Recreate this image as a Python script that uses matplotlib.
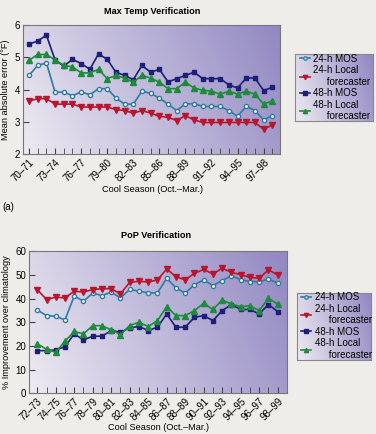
import numpy as np
import matplotlib
matplotlib.use('Agg')
import matplotlib.pyplot as plt

plt.rcParams['font.family'] = ['Liberation Sans', 'DejaVu Sans']

# cool seasons
temp_seasons = ["%02d\u2013%02d" % (y % 100, (y + 1) % 100) for y in range(1970, 1999)]
pop_seasons = ["%02d\u2013%02d" % (y % 100, (y + 1) % 100) for y in range(1972, 1999)]

# Max temp mean absolute error (F)
temp_mos24 = [4.44, 4.75, 4.83, 3.92, 3.92, 3.81, 3.93, 3.84, 4.03, 4.03, 3.74, 3.55, 3.55, 3.95, 3.88,
              3.74, 3.55, 3.35, 3.56, 3.56, 3.48, 3.48, 3.48, 3.35, 3.17, 3.48, 3.35, 3.06, 3.19]
temp_loc24 = [3.64, 3.72, 3.72, 3.55, 3.55, 3.55, 3.46, 3.46, 3.46, 3.46, 3.38, 3.35, 3.27, 3.35, 3.27,
              3.17, 3.14, 3.04, 3.19, 3.06, 2.98, 2.98, 2.98, 2.98, 2.98, 2.98, 2.98, 2.77, 2.90]
temp_mos48 = [5.41, 5.51, 5.69, 4.92, 4.73, 4.94, 4.81, 4.63, 5.11, 4.94, 4.54, 4.44, 4.31, 4.75, 4.54,
              4.63, 4.24, 4.34, 4.44, 4.54, 4.34, 4.34, 4.34, 4.15, 4.05, 4.36, 4.36, 3.97, 4.07]
temp_loc48 = [4.91, 5.09, 5.09, 4.92, 4.75, 4.71, 4.52, 4.52, 4.63, 4.34, 4.44, 4.36, 4.23, 4.44, 4.36,
              4.23, 4.03, 4.03, 4.23, 4.05, 3.98, 3.95, 3.86, 3.95, 3.86, 3.95, 3.86, 3.55, 3.65]

# PoP % improvement over climatology
pop_mos24 = [35.2, 32.8, 32.5, 31.0, 41.1, 38.9, 42.3, 41.3, 42.7, 40.3, 43.9, 43.1, 42.4, 42.4,
             48.6, 44.5, 42.3, 45.9, 47.9, 45.5, 47.6, 49.7, 48.0, 47.2, 47.2, 48.2, 46.6]
pop_loc24 = [43.8, 39.6, 40.6, 40.3, 43.1, 42.8, 43.8, 44.2, 44.2, 42.0, 46.9, 47.3, 47.0, 47.9,
             52.5, 49.3, 47.9, 50.7, 52.3, 50.4, 52.8, 51.1, 50.1, 49.0, 48.6, 52.1, 50.1]
pop_mos48 = [18.0, 18.0, 18.3, 19.7, 25.1, 22.5, 24.1, 24.1, 26.5, 25.8, 27.6, 28.2, 26.5, 27.9,
             33.5, 27.9, 27.9, 32.1, 32.8, 30.7, 34.9, 37.5, 35.4, 35.4, 33.5, 37.5, 34.5]
pop_loc48 = [20.8, 18.6, 17.3, 22.0, 26.1, 25.1, 28.6, 28.5, 26.8, 24.8, 28.6, 30.0, 28.2, 30.7,
             36.6, 32.8, 32.8, 34.9, 38.0, 35.4, 39.4, 37.7, 36.6, 37.0, 34.9, 40.1, 37.7]

labels = ["24-h MOS", "24-h Local\n     forecaster", "48-h MOS", "48-h Local\n     forecaster"]
styles = [dict(color='#2f7aa6', marker='o', mfc='white', mec='#2f7aa6', ms=3.0),
          dict(color='#b8162e', marker='v', mfc='#b8162e', mec='#b8162e', ms=3.8),
          dict(color='#1d1f78', marker='s', mfc='#1d1f78', mec='#1d1f78', ms=3.4),
          dict(color='#1e8b3c', marker='^', mfc='#1e8b3c', mec='#1e8b3c', ms=3.8)]


def gradient(ax):
    X, Y = np.meshgrid(np.linspace(0, 1, 200), np.linspace(0, 1, 200))
    t = np.clip(0.8 * X + 0.2 * Y, 0, 1)
    c0 = np.array([0.93, 0.92, 0.95])
    c1 = np.array([0.57, 0.53, 0.76])
    img = c0 + (c1 - c0) * t[..., None]
    ax.imshow(img, extent=[0, 1, 0, 1], transform=ax.transAxes, origin='lower',
              aspect='auto', zorder=0, interpolation='bilinear')


def panel(ax, series, seasons, step, yticks, ylabel):
    gradient(ax)
    x = np.arange(len(seasons))
    lines = []
    for vals, st in zip(series, styles):
        ln, = ax.plot(x, vals, lw=1.2, zorder=3, **st)
        lines.append(ln)
    ax.set_xticks(x, minor=True)
    ax.set_xticks(x[::step])
    ax.set_xticklabels(seasons[::step], rotation=45, ha='right', rotation_mode='anchor', fontsize=6.8)
    ax.set_yticks(yticks)
    ax.tick_params(axis='both', which='both', direction='in', length=4, color='#444444',
                   labelsize=7, pad=2)
    ax.set_ylabel(ylabel, fontsize=6.6, labelpad=3)
    for s in ax.spines.values():
        s.set_color('#777777')
        s.set_linewidth(0.8)
    return lines


def legend_box(rect, handles):
    lax = fig.add_axes(rect)
    gradient(lax)
    lax.set_xticks([])
    lax.set_yticks([])
    for s in lax.spines.values():
        s.set_color('#888888')
        s.set_linewidth(0.8)
    lax.legend(handles, labels, loc='center left', bbox_to_anchor=(0.06, 0.5), frameon=False,
               fontsize=7, handlelength=1.0, handletextpad=0.4, labelspacing=0.15,
               borderaxespad=0, borderpad=0, markerscale=0.8)


fig = plt.figure(figsize=(3.76, 4.34), dpi=100)
fig.patch.set_facecolor('#eeede9')

ax1 = fig.add_axes([0.061, 0.645, 0.684, 0.297])
h1 = panel(ax1, [temp_mos24, temp_loc24, temp_mos48, temp_loc48], temp_seasons, 3,
           [2, 3, 4, 5, 6], 'Mean absolute error (\u00b0F)')
ax1.set_xlim(-0.7, 28.9)
ax1.set_ylim(2, 6)

ax2 = fig.add_axes([0.077, 0.094, 0.686, 0.327])
h2 = panel(ax2, [pop_mos24, pop_loc24, pop_mos48, pop_loc48], pop_seasons, 2,
           [0, 10, 20, 30, 40, 50, 60], '% Improvement over climatology')
ax2.set_xlim(-0.9, 27.0)
ax2.set_ylim(0, 60)

legend_box([0.785, 0.721, 0.207, 0.154], h1)
legend_box([0.790, 0.171, 0.197, 0.155], h2)

fig.text(152 / 376, 1 - 11 / 434, 'Max Temp Verification', ha='center', va='center',
         fontsize=6.6, fontweight='bold')
fig.text(152 / 376, 1 - 190 / 434, 'Cool Season (Oct.\u2013Mar.)', ha='center', va='center', fontsize=6.6)
fig.text(8 / 376, 1 - 207 / 434, '(a)', ha='center', va='center', fontsize=7)
fig.text(156 / 376, 1 - 236 / 434, 'PoP Verification', ha='center', va='center',
         fontsize=6.6, fontweight='bold')
fig.text(158 / 376, 1 - 427 / 434, 'Cool Season (Oct.\u2013Mar.)', ha='center', va='center', fontsize=6.6)

fig.savefig('out.png', dpi=100, facecolor=fig.get_facecolor())
